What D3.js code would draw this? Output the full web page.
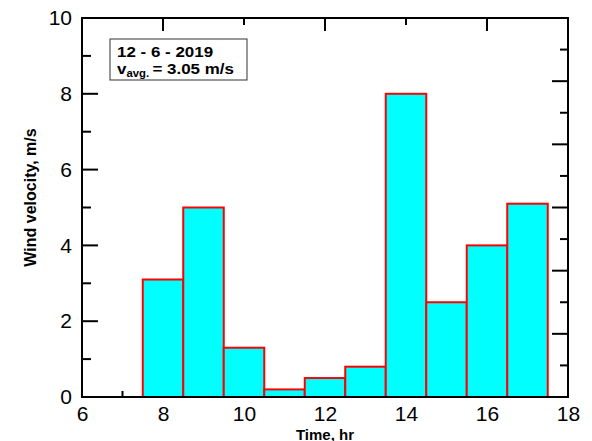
<!DOCTYPE html>
<html>
<head>
<meta charset="utf-8">
<script src="https://cdn.jsdelivr.net/npm/d3@7"></script>
<style>
  html, body { margin: 0; padding: 0; background: #fff; }
  svg { display: block; font-family: "Liberation Sans", Arial, sans-serif; }
</style>
</head>
<body>
<svg id="chart" width="592" height="441"></svg>
<script>
// Hourly mean wind velocity, 12 June 2019
const hours = [8, 9, 10, 11, 12, 13, 14, 15, 16, 17];
const velocity = [3.1, 5.0, 1.3, 0.2, 0.5, 0.8, 8.0, 2.5, 4.0, 5.1];
const xTickValues = [6, 8, 10, 12, 14, 16, 18];
const yTickValues = [0, 2, 4, 6, 8, 10];
const dateLabel = "12 - 6 - 2019";
const avgLabel = "= 3.05 m/s";

const svg = d3.select("#chart");
const margin = { left: 82, right: 24, top: 18, bottom: 44 };
const W = 592, H = 441;
const FONT = "Liberation Sans, Arial, sans-serif";

const x = d3.scaleLinear().domain([6, 18]).range([margin.left, W - margin.right]);
const y = d3.scaleLinear().domain([0, 10]).range([H - margin.bottom, margin.top]);
// right-hand frame carries its own unlabeled 0–12 tick scale
const yRight = d3.scaleLinear().domain([0, 12]).range([H - margin.bottom, margin.top]);

const x0 = x.range()[0], x1 = x.range()[1];
const y0 = y.range()[0], y1 = y.range()[1];

// tick marks (inward)
const ticks = svg.append("g").attr("stroke", "#000").attr("stroke-width", 2);
d3.range(0, 11).forEach(v => {
  const len = v % 2 === 0 ? 16 : 9;
  ticks.append("line").attr("x1", x0).attr("x2", x0 + len).attr("y1", y(v)).attr("y2", y(v));
});
d3.range(1, 12).forEach(v => {
  const len = v % 2 === 0 ? 16 : 8;
  ticks.append("line").attr("x1", x1).attr("x2", x1 - len).attr("y1", yRight(v)).attr("y2", yRight(v));
});
[8, 10, 12, 14, 16].forEach(v => {
  const len = (v % 4 === 0) ? 13 : 7;
  ticks.append("line").attr("x1", x(v)).attr("x2", x(v)).attr("y1", y1).attr("y2", y1 + len);
});
d3.range(7, 18).forEach(v => {
  const len = v % 2 === 0 ? 13 : 6;
  ticks.append("line").attr("x1", x(v)).attr("x2", x(v)).attr("y1", y0).attr("y2", y0 - len);
});

// bars, one per hour, centred on the hour
svg.append("g").selectAll("rect")
  .data(hours.map((h, i) => ({ h, v: velocity[i] })))
  .join("rect")
  .attr("x", d => x(d.h - 0.5))
  .attr("width", d => x(d.h + 0.5) - x(d.h - 0.5))
  .attr("y", d => y(d.v))
  .attr("height", d => y(0) - y(d.v))
  .attr("fill", "#00ffff")
  .attr("stroke", "#ff0000")
  .attr("stroke-width", 2);

// frame
svg.append("rect")
  .attr("x", x0).attr("y", y1)
  .attr("width", x1 - x0).attr("height", y0 - y1)
  .attr("fill", "none").attr("stroke", "#000").attr("stroke-width", 2);

// axis labels via d3 axes (tick lines hidden, text only)
const xAxis = svg.append("g")
  .attr("transform", `translate(0,${y0})`)
  .call(d3.axisBottom(x).tickValues(xTickValues).tickSize(0).tickPadding(9).tickFormat(d3.format("d")));
xAxis.select(".domain").remove();
xAxis.selectAll("text").attr("font-size", 21).attr("fill", "#000").attr("font-family", FONT);

const yAxis = svg.append("g")
  .attr("transform", `translate(${x0},0)`)
  .call(d3.axisLeft(y).tickValues(yTickValues).tickSize(0).tickPadding(10).tickFormat(d3.format("d")));
yAxis.select(".domain").remove();
yAxis.selectAll("text").attr("font-size", 21).attr("fill", "#000").attr("font-family", FONT);

// axis titles
svg.append("text")
  .attr("x", (x0 + x1) / 2).attr("y", 439.5)
  .attr("text-anchor", "middle")
  .attr("font-size", 15).attr("font-weight", "bold")
  .text("Time, hr");

svg.append("text")
  .attr("transform", `translate(36,${(y0 + y1) / 2 - 10}) rotate(-90)`)
  .attr("text-anchor", "middle")
  .attr("font-size", 16).attr("font-weight", "bold")
  .text("Wind velocity, m/s");

// annotation box
const note = svg.append("g");
note.append("rect")
  .attr("x", 110).attr("y", 39).attr("width", 137).attr("height", 41)
  .attr("fill", "#fff").attr("stroke", "#333").attr("stroke-width", 1);
const noteText = note.append("g").attr("transform", "translate(117,0) scale(1.13,1)");
noteText.append("text")
  .attr("x", 0).attr("y", 57)
  .attr("font-size", 15).attr("font-weight", "bold")
  .text(dateLabel);
const t2 = noteText.append("text")
  .attr("x", 0).attr("y", 74)
  .attr("font-size", 15).attr("font-weight", "bold");
t2.append("tspan").text("v");
t2.append("tspan").attr("font-size", 10).attr("dy", 3).text("avg.");
t2.append("tspan").attr("dy", -3).attr("dx", 3).text(avgLabel);
</script>
</body>
</html>
